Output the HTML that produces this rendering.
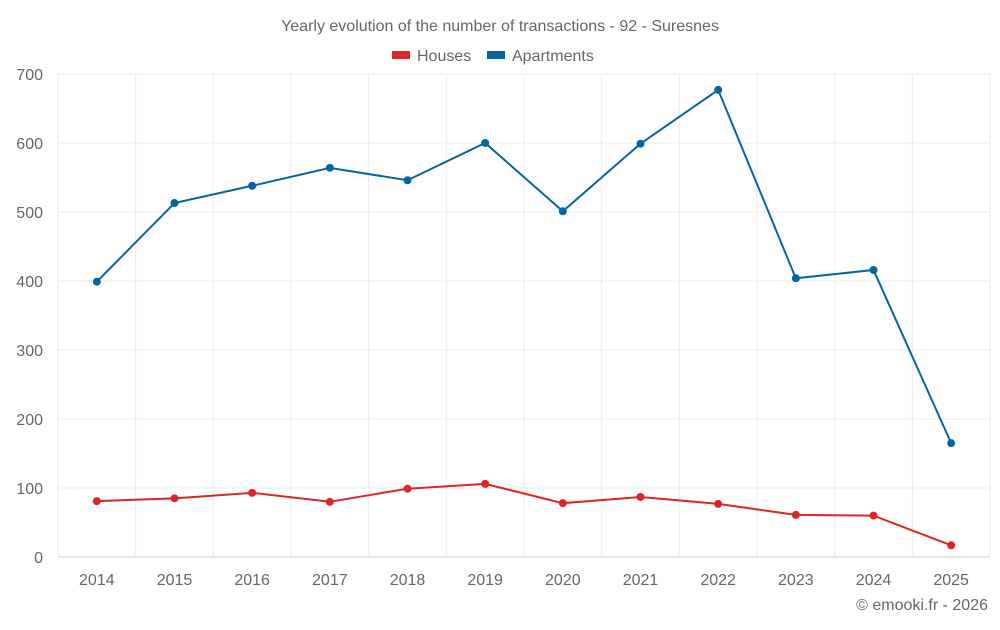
<!DOCTYPE html>
<html><head><meta charset="utf-8"><style>
body{margin:0;background:#fff;font-family:"Liberation Sans",sans-serif;}
svg text{font-family:"Liberation Sans",sans-serif;fill:#666;}
</style></head><body>
<svg id="chart" width="1000" height="625">
<text x="500" y="31" text-anchor="middle" font-size="16">Yearly evolution of the number of transactions - 92 - Suresnes</text>
<g>
<g><rect x="392" y="51" width="18" height="8" fill="#dc2626"/><text x="417" y="61" font-size="16">Houses</text></g>
<g><rect x="487" y="51" width="18" height="8" fill="#0565a0"/><text x="512" y="61" font-size="16">Apartments</text></g>
</g>
<g id="grid"></g>
<g id="axes"></g>
<g id="series"></g>
<text x="988" y="610" text-anchor="end" font-size="16">© emooki.fr - 2026</text>
</svg>
<script>
const years=["2014","2015","2016","2017","2018","2019","2020","2021","2022","2023","2024","2025"];
const houses=[81,85,93,80,99,106,78,87,77,61,60,17];
const apartments=[399,513,538,564,546,600,501,599,677,404,416,165];
const yTicks=[0,100,200,300,400,500,600,700];
const L=58,R=990,T=74,B=557,yMax=700;
const bw=(R-L)/years.length;
const x=i=>L+bw*(i+0.5);
const y=v=>B-(v/yMax)*(B-T);
const NS="http://www.w3.org/2000/svg";
function mk(tag,attrs,parent){const e=document.createElementNS(NS,tag);for(const k in attrs)e.setAttribute(k,attrs[k]);parent.appendChild(e);return e;}
const grid=document.getElementById('grid'),axes=document.getElementById('axes'),ser=document.getElementById('series');
yTicks.forEach(t=>{
  const l=mk('line',{x1:L,x2:R,y1:y(t),y2:y(t),stroke:t===0?'#ccc':'#ebebeb'},grid);
  
  
  const tx=mk('text',{x:L-15,y:y(t)+6,'text-anchor':'end','font-size':16},axes);
  tx.textContent=t;
  
  
});
for(let i=0;i<=years.length;i++){
  const l=mk('line',{x1:L+bw*i,x2:L+bw*i,y1:T,y2:B,stroke:'#ebebeb'},grid);
  
  
}
years.forEach((yr,i)=>{
  const tx=mk('text',{x:x(i),y:585,'text-anchor':'middle','font-size':16},axes);
  tx.textContent=yr;
  
  
});
function draw(data,color,name){
  const p=mk('polyline',{points:data.map((v,i)=>x(i)+','+y(v)).join(' '),fill:'none',stroke:color,'stroke-width':2},ser);
  
  
  data.forEach((v,i)=>{
    const c=mk('circle',{cx:x(i),cy:y(v),r:4,fill:color},ser);
    
    
  });
}
draw(houses,'#dc2626','houses');
draw(apartments,'#0565a0','apartments');
</script>
</body></html>
